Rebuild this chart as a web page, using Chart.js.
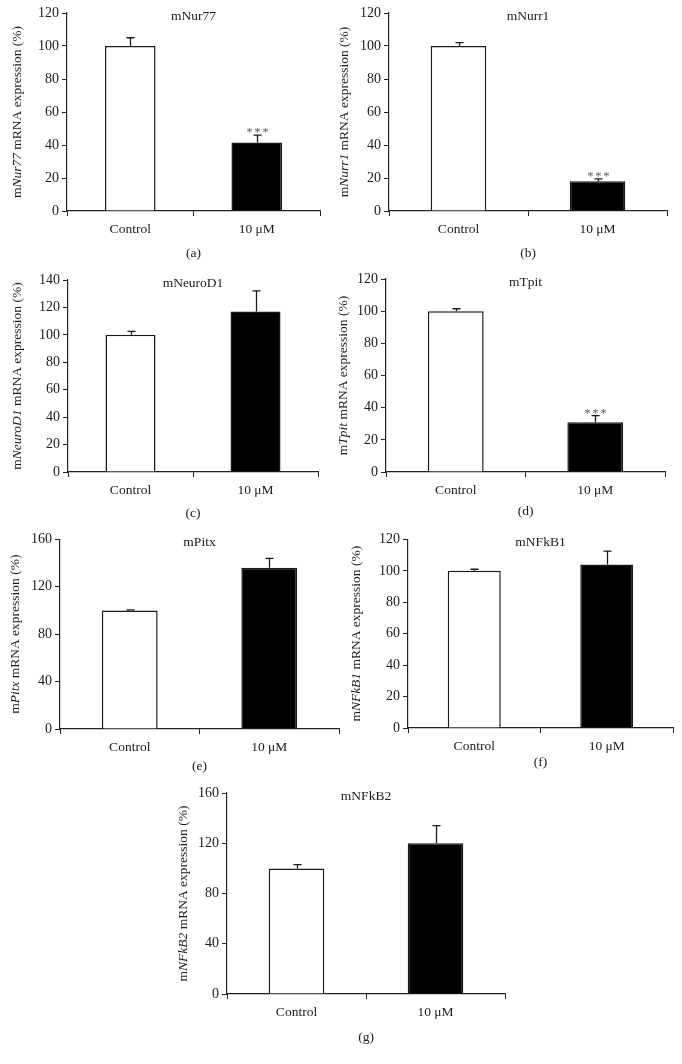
<!DOCTYPE html>
<html>
<head>
<meta charset="utf-8">
<script src="https://cdn.jsdelivr.net/npm/chart.js@4.4.1/dist/chart.umd.min.js"></script>
<style>
  html, body { margin: 0; padding: 0; background: #fff; }
  #page { position: relative; width: 682px; height: 1064px; background: #fff; overflow: hidden; }
  #page canvas { position: absolute; }
</style>
</head>
<body>
<div id="page"></div>
<script>
// 数据
const genes = ['Nur77', 'Nurr1', 'NeuroD1', 'Tpit', 'Pitx', 'NFkB1', 'NFkB2'];
const panelLetters = ['(a)', '(b)', '(c)', '(d)', '(e)', '(f)', '(g)'];
const groups = ['Control', '10 \u03BCM'];
const controlMeans = [100, 100, 100, 100, 100, 100, 100];
const treatedMeans = [41.5, 18, 117, 31, 136, 104, 120];
const controlErr = [5, 2, 2.5, 1.5, 0.5, 1, 3];
const treatedErr = [4.5, 1.5, 15, 4, 8, 8.5, 14];
const significance = ['***', '***', '', '***', '', '', ''];
const yMax = [120, 120, 140, 120, 160, 120, 160];
const yStep = [20, 20, 20, 20, 40, 20, 40];

// 版面：画布位置与坐标轴位置（页面像素）
const layout = [
  { cx: 0,   cy: 0,   cw: 335, ch: 266, x0: 67,  x1: 320, top: 13,  zero: 211, labelX: 17,  letterY: 253 },
  { cx: 325, cy: 0,   cw: 357, ch: 266, x0: 389, x1: 667, top: 13,  zero: 211, labelX: 344, letterY: 253 },
  { cx: 0,   cy: 266, cw: 335, ch: 262, x0: 68,  x1: 318, top: 280, zero: 472, labelX: 17,  letterY: 513 },
  { cx: 325, cy: 266, cw: 357, ch: 262, x0: 386, x1: 665, top: 279, zero: 472, labelX: 343, letterY: 511 },
  { cx: 0,   cy: 528, cw: 341, ch: 256, x0: 60,  x1: 339, top: 538, zero: 729, labelX: 15,  letterY: 766 },
  { cx: 341, cy: 528, cw: 341, ch: 256, x0: 408, x1: 673, top: 538, zero: 728, labelX: 356, letterY: 762 },
  { cx: 150, cy: 780, cw: 370, ch: 284, x0: 227, x1: 505, top: 793, zero: 994, labelX: 183, letterY: 1037 }
];

const SERIF = '"Liberation Serif", "DejaVu Serif", serif';
const INK = '#1a1a1a';

// 插件：误差线、星号、标题、纵轴标题、面板字母
const decor = {
  id: 'decor',
  afterDatasetsDraw(chart, args, o) {
    const ctx = chart.ctx;
    const y = chart.scales.y;
    const meta = chart.getDatasetMeta(0);
    ctx.save();
    ctx.strokeStyle = INK;
    ctx.lineWidth = 1.3;
    meta.data.forEach((bar, i) => {
      const top = y.getPixelForValue(o.means[i] + o.errs[i]);
      const base = y.getPixelForValue(o.means[i]);
      const x = Math.round(bar.x) + 0.5;
      ctx.beginPath();
      ctx.moveTo(x, base);
      ctx.lineTo(x, top);
      ctx.moveTo(x - 4, top);
      ctx.lineTo(x + 4, top);
      ctx.stroke();
      if (i === 1 && o.sig) {
        ctx.fillStyle = '#555';
        ctx.font = '12px ' + SERIF;
        ctx.letterSpacing = '2px';
        ctx.textAlign = 'center';
        ctx.textBaseline = 'alphabetic';
        ctx.fillText(o.sig, x + 1, top + 1);
        ctx.letterSpacing = '0px';
      }
    });
    ctx.restore();
  },
  afterDraw(chart, args, o) {
    const ctx = chart.ctx;
    const area = chart.chartArea;
    ctx.save();
    ctx.fillStyle = INK;
    // 标题
    ctx.font = '13.5px ' + SERIF;
    ctx.textAlign = 'center';
    ctx.textBaseline = 'middle';
    ctx.fillText('m' + o.gene, (area.left + area.right) / 2, area.top + 3);
    // 面板字母
    ctx.fillText(o.letter, (area.left + area.right) / 2, o.letterY);
    // 纵轴标题（基因名斜体）
    const parts = [
      { t: 'm', f: '13.5px ' + SERIF },
      { t: o.gene, f: 'italic 13.5px ' + SERIF },
      { t: ' mRNA expression (%)', f: '13.5px ' + SERIF }
    ];
    let total = 0;
    parts.forEach(p => { ctx.font = p.f; p.w = ctx.measureText(p.t).width; total += p.w; });
    ctx.translate(o.labelX, (area.top + area.bottom) / 2);
    ctx.rotate(-Math.PI / 2);
    ctx.textAlign = 'left';
    ctx.textBaseline = 'middle';
    let cur = -total / 2;
    parts.forEach(p => { ctx.font = p.f; ctx.fillText(p.t, cur, 0); cur += p.w; });
    ctx.restore();
  }
};

const page = document.getElementById('page');

genes.forEach((gene, i) => {
  const L = layout[i];
  const canvas = document.createElement('canvas');
  canvas.width = L.cw;
  canvas.height = L.ch;
  canvas.style.left = L.cx + 'px';
  canvas.style.top = L.cy + 'px';
  canvas.style.width = L.cw + 'px';
  canvas.style.height = L.ch + 'px';
  page.appendChild(canvas);

  new Chart(canvas.getContext('2d'), {
    type: 'bar',
    data: {
      labels: groups,
      datasets: [{
        data: [controlMeans[i], treatedMeans[i]],
        backgroundColor: ['#ffffff', '#000000'],
        borderColor: INK,
        borderWidth: 1.5,
        barPercentage: 0.4,
        categoryPercentage: 1
      }]
    },
    options: {
      responsive: false,
      animation: false,
      devicePixelRatio: 1,
      layout: {
        padding: { left: 0, top: L.top - L.cy, right: L.cx + L.cw - L.x1, bottom: 0 }
      },
      plugins: {
        legend: { display: false },
        tooltip: { enabled: false },
        decor: {
          gene: gene,
          letter: panelLetters[i],
          means: [controlMeans[i], treatedMeans[i]],
          errs: [controlErr[i], treatedErr[i]],
          sig: significance[i],
          labelX: L.labelX - L.cx,
          letterY: L.letterY - L.cy
        }
      },
      scales: {
        x: {
          offset: true,
          grid: { offset: true, drawOnChartArea: false, drawTicks: true, tickLength: 5, color: '#222', lineWidth: 1 },
          border: { display: true, color: '#222', width: 1.2 },
          ticks: { color: INK, font: { family: SERIF, size: 13.5 }, padding: 5, maxRotation: 0 },
          afterFit: s => { s.height = L.cy + L.ch - L.zero; }
        },
        y: {
          min: 0,
          max: yMax[i],
          ticks: { stepSize: yStep[i], color: INK, font: { family: SERIF, size: 14 }, padding: 3 },
          grid: { drawOnChartArea: false, drawTicks: true, tickLength: 5, color: '#222', lineWidth: 1 },
          border: { display: true, color: '#222', width: 1.2 },
          afterFit: s => { s.width = L.x0 - L.cx; }
        }
      }
    },
    plugins: [decor]
  });
});
</script>
</body>
</html>
